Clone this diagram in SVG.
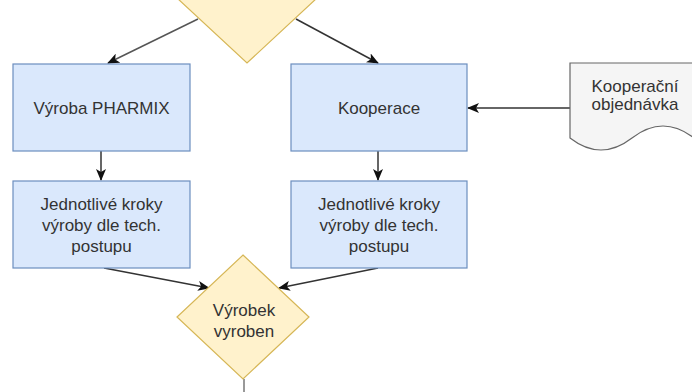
<svg xmlns="http://www.w3.org/2000/svg" width="692" height="392" viewBox="0 0 692 392">
<style>
.box{fill:#dae8fc;stroke:#6c8ebf;stroke-width:1.2}
.dia{fill:#fff2cc;stroke:#d6b656;stroke-width:1.2}
.doc{fill:#f5f5f5;stroke:#666666;stroke-width:1.2}
.t{font-family:"Liberation Sans",Arial,sans-serif;font-size:17px;fill:#333333;text-anchor:middle}
.e{fill:none;stroke:#333333;stroke-width:1.5}
</style>
<defs>
<marker id="ah" markerUnits="userSpaceOnUse" markerWidth="12" markerHeight="10" refX="11" refY="5" orient="auto" viewBox="0 0 12 10">
<path d="M0,0 L12,5 L0,10 L3,5 Z" fill="#111111"/>
</marker>
</defs>
<g id="connectors">
<path class="e" d="M198,19 L108,63" marker-end="url(#ah)" style="stroke:#555555"/>
<path class="e" d="M296,19 L378,63" marker-end="url(#ah)"/>
<path class="e" d="M101,151 L101,180" marker-end="url(#ah)"/>
<path class="e" d="M378,151 L378,180" marker-end="url(#ah)"/>
<path class="e" d="M570,108 L468,108" marker-end="url(#ah)"/>
<path class="e" d="M104,268 L209,288" marker-end="url(#ah)"/>
<path class="e" d="M378,268 L279,288" marker-end="url(#ah)"/>
<path class="e" d="M244,379 L244,392" style="stroke:#777777"/>
</g>
<g id="decision-top">
<polygon class="dia" points="247,-67 317,-2 247,63 177,-2"/>
</g>
<g id="vyroba-pharmix">
<rect class="box" x="13" y="64" width="177" height="87"/>
<text class="t" x="101.5" y="114">Výroba PHARMIX</text>
</g>
<g id="kooperace">
<rect class="box" x="291" y="64" width="176" height="87"/>
<text class="t" x="379" y="114">Kooperace</text>
</g>
<g id="kroky-left">
<rect class="box" x="13" y="181" width="177" height="87"/>
<text class="t" x="101.5" y="210">Jednotlivé kroky</text>
<text class="t" x="101.5" y="231">výroby dle tech.</text>
<text class="t" x="101.5" y="252">postupu</text>
</g>
<g id="kroky-right">
<rect class="box" x="291" y="181" width="176" height="87"/>
<text class="t" x="379" y="210">Jednotlivé kroky</text>
<text class="t" x="379" y="231">výroby dle tech.</text>
<text class="t" x="379" y="252">postupu</text>
</g>
<g id="kooperacni-objednavka">
<path class="doc" d="M570,63 L694,63 L694,138 Q663,114 632,138 Q601,162 570,138 Z"/>
<text class="t" x="635" y="92">Kooperační</text>
<text class="t" x="635" y="110">objednávka</text>
</g>
<g id="vyrobek-vyroben">
<polygon class="dia" points="243,255 309,317 243,379 177,317"/>
<text class="t" x="244" y="316">Výrobek</text>
<text class="t" x="244" y="337">vyroben</text>
</g>
</svg>
